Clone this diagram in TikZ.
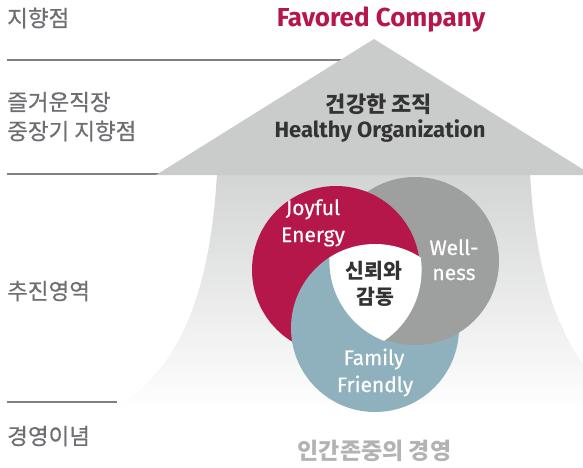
\documentclass[tikz,border=0pt]{standalone}
\usepackage{fontspec}
\setmainfont{Fira Sans}
\newfontfamily\kr{Noto Sans CJK KR}
\newfontfamily\krmed[FakeBold=0.6]{Noto Sans CJK KR}
\newfontfamily\latmed[FakeBold=0.4]{Fira Sans}
\definecolor{lgred}{HTML}{B5174B}
\definecolor{lggray}{HTML}{9E9F9F}
\definecolor{lgblue}{HTML}{8FB0BD}
\definecolor{labelgray}{HTML}{6E6F72}
\definecolor{darktext}{HTML}{333333}
\definecolor{arrowgray}{HTML}{CACBCB}
\definecolor{shafttop}{HTML}{D3D4D4}
\definecolor{lighttext}{HTML}{B3B3B3}
\definecolor{rulegray}{HTML}{7F7F7F}
\tikzset{
  sidelabel/.style={anchor=west,inner sep=0pt,text=labelgray,font=\krmed\fontsize{22.5}{26}\selectfont},
  rulestyle/.style={draw=rulegray,line width=1.2pt},
  circtext/.style={anchor=base,inner sep=0pt,text=white,font=\latmed\fontsize{21}{25}\selectfont},
  coretext/.style={inner sep=0pt,text=darktext,font=\kr\bfseries\fontsize{20.5}{24}\selectfont},
}
\begin{document}
\begin{tikzpicture}[x=1pt,y=-1pt]
\useasboundingbox (0,0) rectangle (583,467);
\clip (0,0) rectangle (583,467);
% arrow shaft
\shade[top color=shafttop, bottom color=white]
  (217,173) .. controls (210,300) and (175,380) .. (105,412)
  -- (642,412) .. controls (572,380) and (537,300) .. (530,173) -- cycle;
% rules
\coordinate (r1a) at (7,60);   \coordinate (r1b) at (360,60);
\coordinate (r2a) at (7,174);  \coordinate (r2b) at (160,174);
\coordinate (r3a) at (7,402);  \coordinate (r3b) at (117,402);
\draw[rulestyle] (r1a) -- (r1b);
\draw[rulestyle] (r2a) -- (r2b);
\draw[rulestyle] (r3a) -- (r3b);
% arrow head
\fill[arrowgray] (374,39) -- (592,175) -- (156,175) -- cycle;
% circles
\coordinate (R) at (336,270);
\coordinate (G) at (415,261);
\coordinate (B) at (375,328);
\fill[lgblue] (B) circle (84pt);
\fill[lgred] (R) circle (84pt);
\begin{scope}
  \clip (R) circle (85pt);
  \fill[lgblue] (B) circle (84pt);
\end{scope}
\fill[lggray] (G) circle (84pt);
\begin{scope}
  \clip (G) circle (85pt);
  \fill[lgred] (R) circle (84pt);
\end{scope}
\begin{scope}
  \clip (R) circle (85.6pt);
  \clip (G) circle (85.6pt);
  \fill[white] (B) circle (84pt);
\end{scope}
% side labels
\node[sidelabel] (l1) at (7,18) {지향점};
\node[sidelabel] (l2) at (7,102) {즐거운직장};
\node[sidelabel] (l3) at (7,131) {중장기 지향점};
\node[sidelabel] (l4) at (7,291) {추진영역};
\node[sidelabel] (l5) at (7,436) {경영이념};
% titles
\node[anchor=base,inner sep=0pt,text=lgred,font=\bfseries\fontsize{26}{30}\selectfont] (fav) at (381,26) {Favored Company};
\node[inner sep=0pt,text=darktext,font=\kr\bfseries\fontsize{22}{26}\selectfont] (hk) at (379,104) {건강한 조직};
\node[anchor=base,inner sep=0pt,text=darktext,font=\bfseries\fontsize{22}{26}\selectfont] (he) at (380,137.5) {Healthy Organization};
\node[inner sep=0pt,text=lighttext,font=\kr\bfseries\fontsize{23}{27}\selectfont] (hm) at (374.5,451) {인간존중의 경영};
% circle labels
\node[circtext] (j1) at (313,215) {Joyful};
\node[circtext] (j2) at (313,242) {Energy};
\node[circtext] (w1) at (454,255) {Well-};
\node[circtext] (w2) at (454,280) {ness};
\node[circtext] (f1) at (374,365) {Family};
\node[circtext] (f2) at (375,392) {Friendly};
\node[coretext] (c1) at (374,271) {신뢰와};
\node[coretext] (c2) at (375,297) {감동};
\end{tikzpicture}
\end{document}
